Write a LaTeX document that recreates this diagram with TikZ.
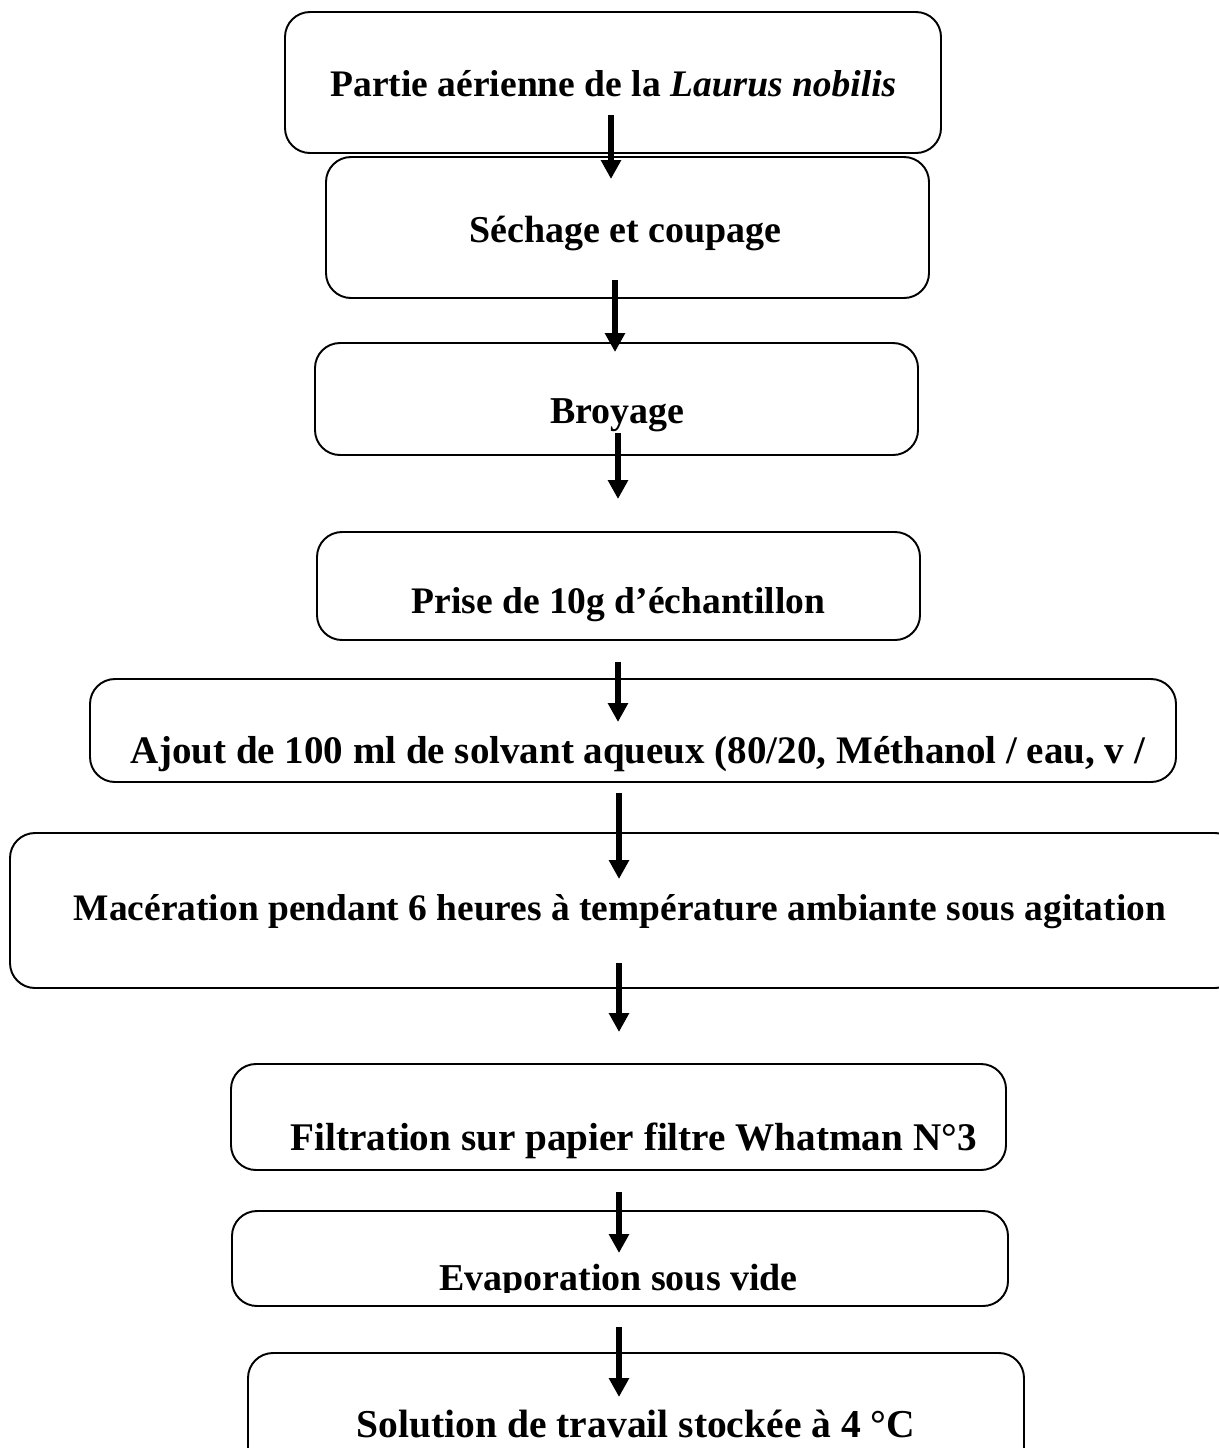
\documentclass[tikz,border=0pt]{standalone}
\usepackage{fontspec}
\setmainfont{Liberation Serif}
\usetikzlibrary{arrows.meta}
\newcommand{\fsz}[1]{\fontsize{#1}{#1}\selectfont\bfseries}
\begin{document}
\begin{tikzpicture}[x=0.02cm,y=-0.02cm,
  stepbox/.style={draw=black, line width=1.1pt, rounded corners=0.5cm},
  txt/.style={anchor=base, inner sep=0pt, font=\fsz{21.35}},
  flow/.style={line width=3.7pt, -{Triangle[length=10.8pt,width=11pt]}}]
\useasboundingbox (0,0) rectangle (1219,1448);
\begin{scope}
\clip (0,0) rectangle (1219,1448);
% boxes
\draw[stepbox] (285,12) rectangle (941,153);
\draw[stepbox] (326,157) rectangle (929,298);
\draw[stepbox] (315,343) rectangle (918,455);
\draw[stepbox] (317,532) rectangle (920,640);
\draw[stepbox] (90,679) rectangle (1176,782);
\draw[stepbox] (10,833) rectangle (1240,988);
\draw[stepbox] (231,1064) rectangle (1006,1170);
\draw[stepbox] (232,1211) rectangle (1008,1306);
\draw[stepbox] (248,1353) rectangle (1024,1480);
% texts
\node[txt] (t1) at (613.5,96) {Partie aérienne de la \textit{Laurus nobilis}};
\node[txt, font=\fsz{21.6}] (t2) at (625.5,242) {Séchage et coupage};
\node[txt, font=\fsz{21.6}] (t3) at (617.5,423) {Broyage};
\node[txt] (t4) at (618.5,613) {Prise de 10g d’échantillon};
\node[txt, font=\fsz{22.2}] (t5) at (638,763) {Ajout de 100 ml de solvant aqueux (80/20, Méthanol / eau, v /};
\node[txt, font=\fsz{21.3}] (t6) at (620,920) {Macération pendant 6 heures à température ambiante sous agitation};
\node[txt, font=\fsz{22.3}] (t7) at (633.5,1150) {Filtration sur papier filtre Whatman N°3};
\begin{scope}
\clip (232,1211) rectangle (1008,1292);
\node[txt, font=\fsz{21.6}] (t8) at (618.5,1290) {Evaporation sous vide};
\end{scope}
\node[txt, font=\fsz{22.5}] (t9) at (636,1437) {Solution de travail stockée à 4 °C};
% arrows
\coordinate (a1s) at (611,115); \coordinate (a1e) at (611,179);
\coordinate (a2s) at (615,280); \coordinate (a2e) at (615,352);
\coordinate (a3s) at (618,433); \coordinate (a3e) at (618,499);
\coordinate (a4s) at (618,662); \coordinate (a4e) at (618,722);
\coordinate (a5s) at (619,793); \coordinate (a5e) at (619,879);
\coordinate (a6s) at (619,963); \coordinate (a6e) at (619,1032);
\coordinate (a7s) at (619,1192); \coordinate (a7e) at (619,1253);
\coordinate (a8s) at (619,1327); \coordinate (a8e) at (619,1397);
\foreach \i in {1,...,8} \draw[flow] (a\i s) -- (a\i e);
\end{scope}
\end{tikzpicture}
\end{document}
